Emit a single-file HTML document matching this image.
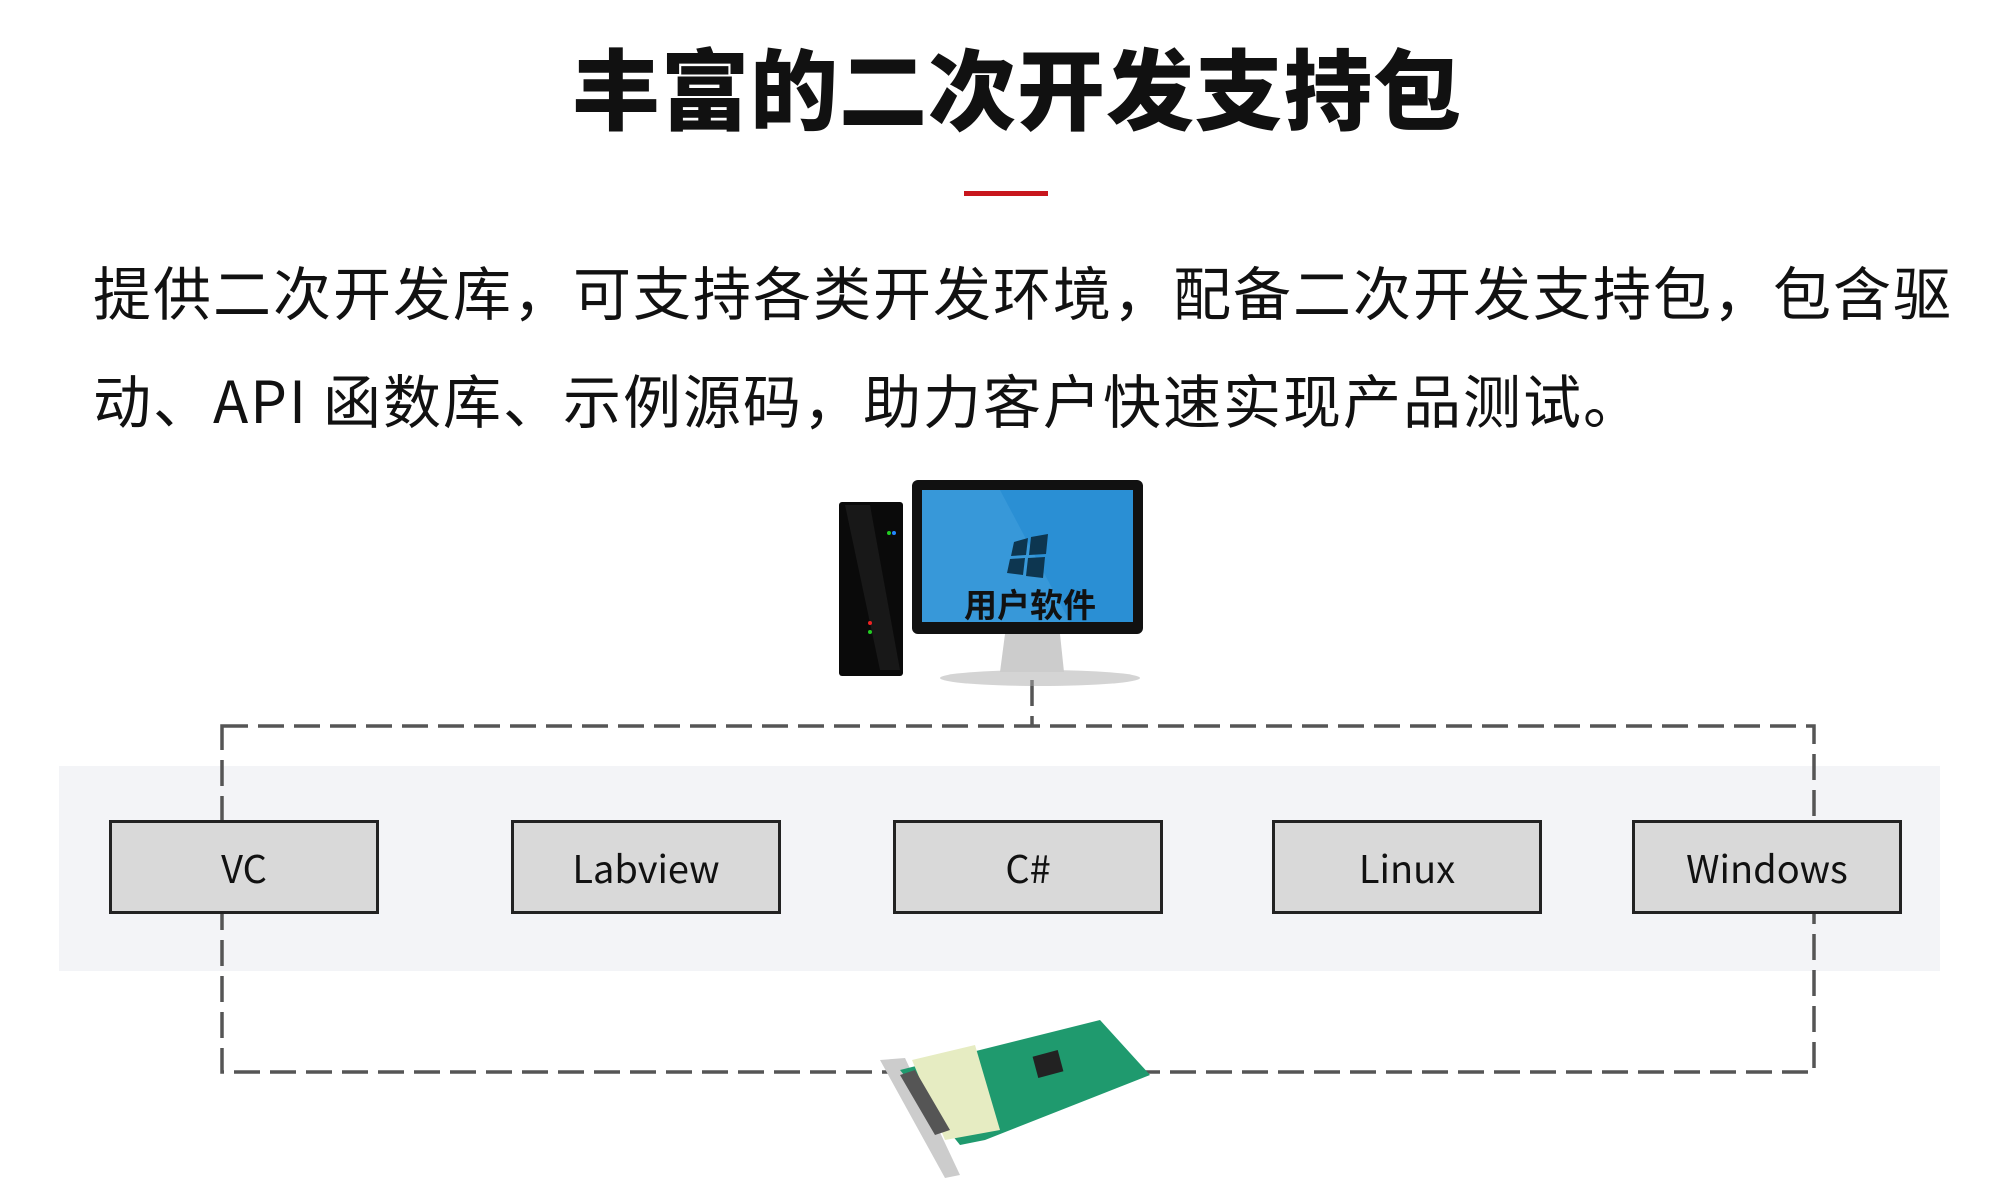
<!DOCTYPE html>
<html><head><meta charset="utf-8"><style>
body{margin:0;width:2000px;height:1200px;background:#fff;position:relative;overflow:hidden;font-family:"Liberation Sans","Noto Sans CJK SC",sans-serif;}
.t{position:absolute;left:17px;width:2000px;top:38px;text-align:center;font-size:88px;font-weight:900;color:#111;line-height:110px;letter-spacing:1px;}
.red{position:absolute;left:964px;top:191px;width:84px;height:5px;background:#c8161d;}
.p{position:absolute;left:93px;top:236px;width:1900px;font-size:58px;line-height:108px;letter-spacing:2px;color:#111;font-family:"Noto Sans CJK SC",sans-serif;}
.band{position:absolute;left:59px;top:766px;width:1881px;height:205px;background:#f3f4f7;}
.box{position:absolute;top:820px;width:264px;height:88px;background:#d9d9d9;border:3px solid #222;font-size:38px;text-align:center;line-height:88px;color:#111;font-family:"Noto Sans CJK SC",sans-serif;}
svg{position:absolute;left:0;top:0;}
</style></head><body>
<div class="t">丰富的二次开发支持包</div>
<div class="red"></div>
<div class="p">提供二次开发库，可支持各类开发环境，配备二次开发支持包，包含驱<br>动、API 函数库、示例源码，助力客户快速实现产品测试。</div>
<div class="band"></div>
<svg width="2000" height="1200">
<g stroke="#555" stroke-width="3.5" fill="none" stroke-dasharray="26,10">
<rect x="222" y="726" width="1592" height="346"/>
<line x1="1032" y1="680" x2="1032" y2="726"/>
</g>
<!-- tower -->
<rect x="839" y="502" width="64" height="174" rx="3" fill="#0a0a0a"/>
<polygon points="845,505 870,505 900,670 880,670" fill="#222" opacity="0.6"/>
<circle cx="889" cy="533" r="2" fill="#2c2"/><circle cx="894" cy="533" r="2" fill="#28f"/>
<circle cx="870" cy="623" r="2" fill="#e22"/><circle cx="870" cy="632" r="2" fill="#2c2"/>
<!-- monitor -->
<ellipse cx="1040" cy="678" rx="100" ry="8" fill="#aaa" opacity="0.5"/>
<polygon points="1005,634 1060,634 1064,672 1000,672" fill="#ccc"/>
<rect x="912" y="480" width="231" height="154" rx="6" fill="#111"/>
<rect x="922" y="490" width="211" height="132" fill="#2a8fd4"/>
<polygon points="922,490 1000,490 1070,622 922,622" fill="#4aa6e0" opacity="0.4"/>
<g fill="#0d3650"><polygon points="1014,542 1028,538 1026,555 1011,556"/><polygon points="1031,537 1048,534 1046,554 1029,555"/><polygon points="1010,559 1025,558 1023,575 1007,573"/><polygon points="1028,558 1045,557 1043,578 1026,576"/></g>
<text x="1030" y="617" text-anchor="middle" font-size="33" font-weight="700" fill="#111" font-family="Noto Sans CJK SC,sans-serif">用户软件</text>
<!-- card -->
<g>
<polygon points="880,1060 905,1058 960,1175 945,1178" fill="#ccc"/>
<polygon points="900,1070 1100,1020 1150,1075 985,1140 960,1145" fill="#1f9a6e"/>
<polygon points="912,1060 975,1045 1000,1130 945,1140" fill="#e6ecc2"/>
<rect x="1035" y="1053" width="26" height="22" fill="#222" transform="rotate(-15 1048 1064)"/>
<polygon points="900,1075 915,1070 950,1130 935,1135" fill="#555"/>
</g>
</svg>
<div class="box" style="left:109px">VC</div>
<div class="box" style="left:511px">Labview</div>
<div class="box" style="left:893px">C#</div>
<div class="box" style="left:1272px">Linux</div>
<div class="box" style="left:1632px">Windows</div>
</body></html>
